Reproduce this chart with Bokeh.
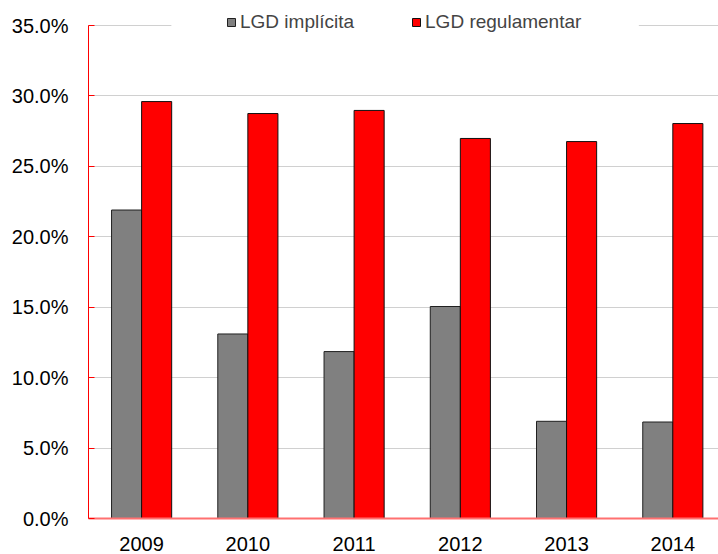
import numpy as np
from bokeh.plotting import figure
from bokeh.models import (ColumnDataSource, Range1d, FixedTicker, PrintfTickFormatter,
                          Legend, LegendItem, BoxAnnotation)
from bokeh.transform import dodge
from bokeh.embed import file_html
from bokeh.resources import INLINE

years = ["2009", "2010", "2011", "2012", "2013", "2014"]
lgd_implicita = [21.9, 13.1, 11.85, 15.05, 6.9, 6.85]
lgd_regulamentar = [29.6, 28.75, 28.97, 26.98, 26.76, 28.04]
y_ticks = [0, 5, 10, 15, 20, 25, 30, 35]

centers = [i + 0.5 for i in range(len(years))]
src = ColumnDataSource(dict(x=centers, imp=lgd_implicita, reg=lgd_regulamentar))

FONT = "Liberation Sans"

# frame spans 2px..518px vertically; 35% sits at 25px
y_top = 35 * (518 - 2) / (518 - 25)
p = figure(width=718, height=554, output_backend="svg", toolbar_location=None,
           x_range=Range1d(0, 5.93), y_range=Range1d(0, y_top),
           min_border_left=88, min_border_right=0, min_border_top=2, min_border_bottom=36)
p.outline_line_color = None
p.background_fill_color = "white"
p.border_fill_color = "white"

bw = 0.283
r1 = p.vbar(x=dodge("x", -bw / 2, range=p.x_range), top="imp", width=bw, source=src,
            fill_color="#808080", line_color="#202020", line_width=1)
r2 = p.vbar(x=dodge("x", bw / 2, range=p.x_range), top="reg", width=bw, source=src,
            fill_color="#ff0000", line_color="#101010", line_width=1)

# axes
xa = p.xaxis[0]
xa.ticker = FixedTicker(ticks=centers)
xa.major_label_overrides = {c: y for c, y in zip(centers, years)}
xa.axis_line_color = "#ff7070"
xa.axis_line_width = 2
xa.major_tick_line_color = None
xa.minor_tick_line_color = None
xa.major_label_text_font = FONT
xa.major_label_text_font_size = "20px"
xa.major_label_text_color = "black"
xa.major_label_standoff = 12

ya = p.yaxis[0]
ya.ticker = FixedTicker(ticks=y_ticks)
ya.bounds = (0, 35)
ya.formatter = PrintfTickFormatter(format="%.1f%%")
ya.axis_line_color = "#ff0000"
ya.axis_line_width = 1
ya.major_tick_line_color = "#ff0000"
ya.major_tick_in = 6
ya.major_tick_out = 0
ya.minor_tick_line_color = None
ya.major_label_text_font = FONT
ya.major_label_text_font_size = "20px"
ya.major_label_text_color = "black"
ya.major_label_standoff = 20

p.xgrid.grid_line_color = None
p.ygrid.ticker = FixedTicker(ticks=y_ticks)
p.ygrid.grid_line_color = "#a0a0a0"
p.ygrid.grid_line_dash = "1 1"
p.ygrid.grid_line_width = 1

# white area behind the legend (breaks the top gridline like the original)
p.add_layout(BoxAnnotation(left=0.78, right=5.18, bottom=34.3, top=36.1,
                           fill_color="white", fill_alpha=1.0, line_color=None))

legend = Legend(items=[LegendItem(label="LGD implícita", renderers=[r1]),
                       LegendItem(label="LGD regulamentar", renderers=[r2])],
                orientation="horizontal", location=(138, 485),
                padding=6, margin=0, spacing=57,
                glyph_width=10, glyph_height=10, label_standoff=4,
                label_text_font=FONT, label_text_font_size="19px",
                border_line_color=None, background_fill_color="white",
                background_fill_alpha=1.0)
p.add_layout(legend, "center")

open("out.html", "w").write(file_html(p, INLINE))
